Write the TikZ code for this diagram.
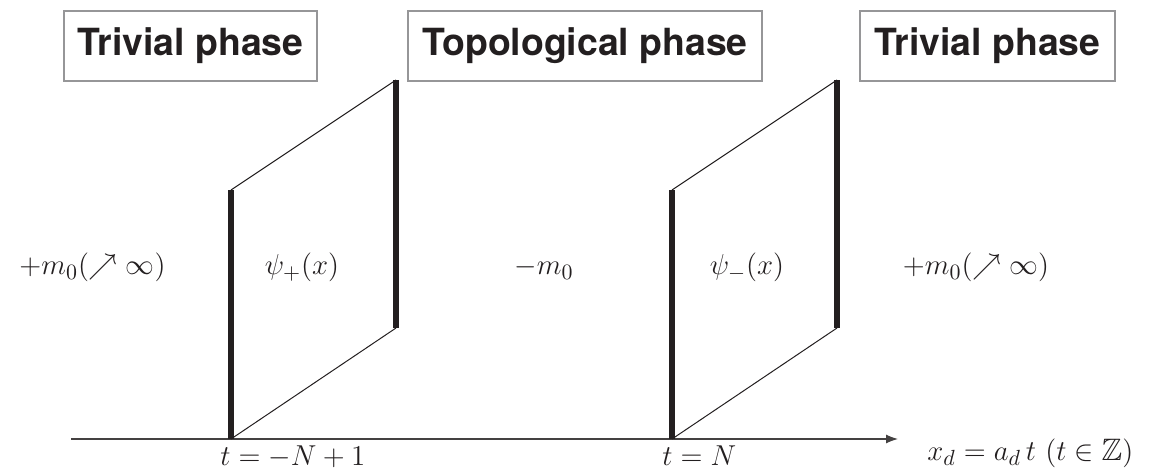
\documentclass[tikz,border=0pt]{standalone}
\usepackage{amssymb}
\usepackage{fontspec}
\newfontfamily\herosfont{TeX Gyre Heros}
\usetikzlibrary{arrows.meta}
\definecolor{ink}{RGB}{35,31,32}
\definecolor{boxgray}{RGB}{150,150,152}
\begin{document}
\begin{tikzpicture}[x=0.5pt,y=-0.5pt,
  phasebox/.style={draw=boxgray, line width=1.1pt, minimum height=35pt, inner xsep=0pt,
    font=\herosfont\bfseries\fontsize{18.7}{20}\selectfont, text=ink},
  thinedge/.style={draw=ink, line width=0.5pt},
  thickedge/.style={draw=ink, line width=2.6pt},
  axisline/.style={draw=ink!85, line width=0.6pt, -{Latex[length=6pt,width=4.5pt]}},
  lbl/.style={font=\fontsize{15.5}{18}\selectfont, text=ink, inner sep=0pt, anchor=base},
  lblw/.style={lbl, anchor=base west}
]
\useasboundingbox (0,0) rectangle (1149,469);
% phase boxes
\node[phasebox, minimum width=126.5pt] (p1) at (190.5,46) {Trivial phase};
\node[phasebox, minimum width=177pt] (p2) at (585,46) {Topological phase};
\node[phasebox, minimum width=127.5pt] (p3) at (987.5,46) {Trivial phase};
% axis
\coordinate (axs) at (71,439);
\coordinate (axe) at (898,439);
\draw[axisline] (axs) -- (axe);
% left wall
\coordinate (a1) at (231,439);
\coordinate (b1) at (231,190);
\coordinate (c1) at (396,328);
\coordinate (d1) at (396,80);
\draw[thinedge] (a1) -- (c1);
\draw[thinedge] (b1) -- (d1);
\draw[thickedge] (a1) -- (b1);
\draw[thickedge] (c1) -- (d1);
% right wall
\coordinate (a2) at (672,439);
\coordinate (b2) at (672,190);
\coordinate (c2) at (837,328);
\coordinate (d2) at (837,80);
\draw[thinedge] (a2) -- (c2);
\draw[thinedge] (b2) -- (d2);
\draw[thickedge] (a2) -- (b2);
\draw[thickedge] (c2) -- (d2);
% labels
\node[lbl] (mL) at (92.5,275) {$+m_0(\nearrow\infty)$};
\node[lbl] (psiP) at (302,275) {$\psi_+(x)$};
\node[lbl] (mM) at (544,275) {$-m_0$};
\node[lbl] (psiM) at (747,275) {$\psi_-(x)$};
\node[lbl] (mR) at (976,275) {$+m_0(\nearrow\infty)$};
\node[lblw] (tL) at (220,465) {$t=-N+1$};
\node[lblw] (tR) at (662,465) {$t=N$};
\node[lblw] (xd) at (927,460) {$x_d=a_d\,t\ (t\in\mathbb{Z})$};
\end{tikzpicture}
\end{document}
